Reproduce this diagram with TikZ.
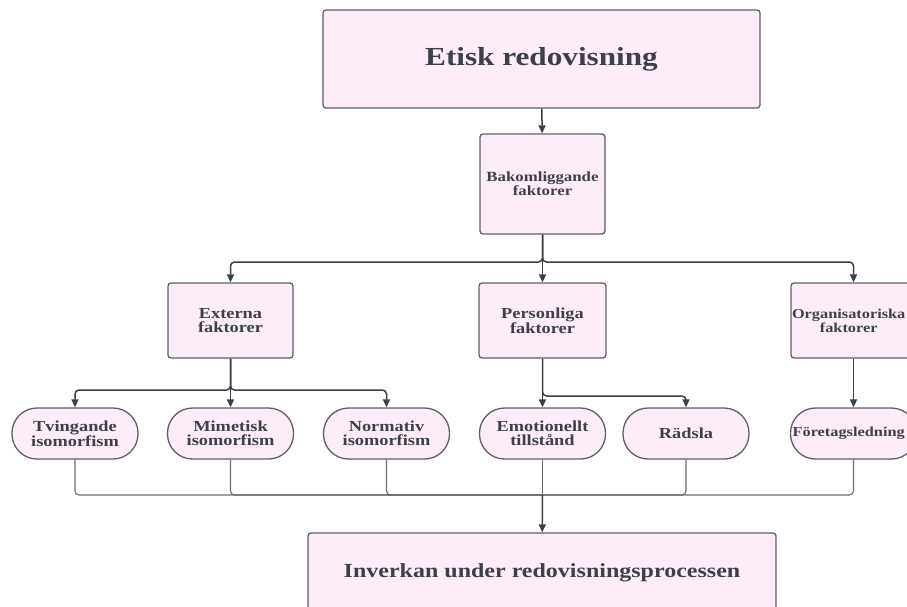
\documentclass[tikz,border=0pt]{standalone}
\usepackage{fontspec}
\setmainfont[FakeStretch=1.2]{Liberation Serif}
\usetikzlibrary{arrows.meta}
\definecolor{boxfill}{HTML}{FDEDF8}
\definecolor{boxline}{HTML}{5F6066}
\definecolor{txt}{HTML}{3D4048}
\definecolor{arrc}{HTML}{3A4048}
\definecolor{thin}{HTML}{6A6E75}
\tikzset{
  base/.style={draw=boxline, line width=1.3pt, fill=boxfill, text=txt, align=center, inner sep=0pt, font=\bfseries\fontsize{15.3}{14}\selectfont},
  sq/.style={base, rounded corners=3pt, minimum width=125pt, minimum height=75pt},
  pill/.style={base, rounded corners=25pt, minimum width=126pt, minimum height=51pt},
  edgetext/.style={text=txt, align=center, inner sep=0pt, font=\bfseries\fontsize{13.6}{14}\selectfont},
  arr/.style={draw=arrc, line width=1.5pt, -{Triangle[width=7pt,length=8pt]}, rounded corners=4pt},
  thinline/.style={draw=thin, line width=1.1pt, rounded corners=4pt}
}
\begin{document}
\begin{tikzpicture}[x=1pt,y=-1pt]
\useasboundingbox (0,0) rectangle (907,606);
\clip (0,0) rectangle (907,606);
\fill[white] (0,0) rectangle (907,606);
% nodes
\node[base, rounded corners=3pt, minimum width=437pt, minimum height=98pt, font=\bfseries\fontsize{26}{28}\selectfont] (title) at (541.5,59) {Etisk redovisning};
\node[sq, minimum height=100pt, font=\bfseries\fontsize{14}{12.5}\selectfont] (bak) at (542.5,184) {Bakomliggande\\faktorer};
\node[sq] (ext) at (230.5,320.5) {Externa\\faktorer};
\node[sq, minimum width=127pt] (per) at (542.5,320.5) {Personliga\\faktorer};
\node[sq] (org) at (853.5,320.5) {};
\node[edgetext] (orgtext) at (848.7,320.5) {Organisatoriska\\faktorer};
\node[pill] (tv) at (75,433.5) {Tvingande\\isomorfism};
\node[pill] (mim) at (230.5,433.5) {Mimetisk\\isomorfism};
\node[pill] (norm) at (386.5,433.5) {Normativ\\isomorfism};
\node[pill] (emo) at (542.5,433.5) {Emotionellt\\tillstånd};
\node[pill] (rad) at (686,433.5) {Rädsla};
\node[pill] (fore) at (853.5,433.5) {};
\node[edgetext] (foretext) at (848.7,433.5) {Företagsledning};
\node[base, rounded corners=3pt, minimum width=468pt, minimum height=80pt, font=\bfseries\fontsize{20}{22}\selectfont] (bot) at (542,573) {Inverkan under redovisningsprocessen};
% bus coordinates
\coordinate (b1) at (542.5,262);
\coordinate (b2) at (230.5,390);
\coordinate (b3) at (542.5,396);
\coordinate (b4) at (542.5,495);
% connectors
\draw[arr] (title) -- (bak);
\draw[arr] (bak) -- (per);
\draw[arr] (bak.south) -- (b1) -| (ext.north);
\draw[arr] (bak.south) -- (b1) -| (org.north);
\draw[arr] (ext) -- (mim);
\draw[arr] (ext.south) -- (b2) -| (tv.north);
\draw[arr] (ext.south) -- (b2) -| (norm.north);
\draw[arr] (per) -- (emo);
\draw[arr] (per.south) -- (b3) -| (rad.north);
\draw[arr] (org) -- (fore);
\draw[thinline] (tv.south) |- (b4);
\draw[thinline] (mim.south) |- (b4);
\draw[thinline] (norm.south) |- (b4);
\draw[thinline] (emo.south) -- (b4);
\draw[thinline] (rad.south) |- (b4);
\draw[thinline] (fore.south) |- (b4);
\draw[arr] (b4) -- (bot);
\end{tikzpicture}
\end{document}
